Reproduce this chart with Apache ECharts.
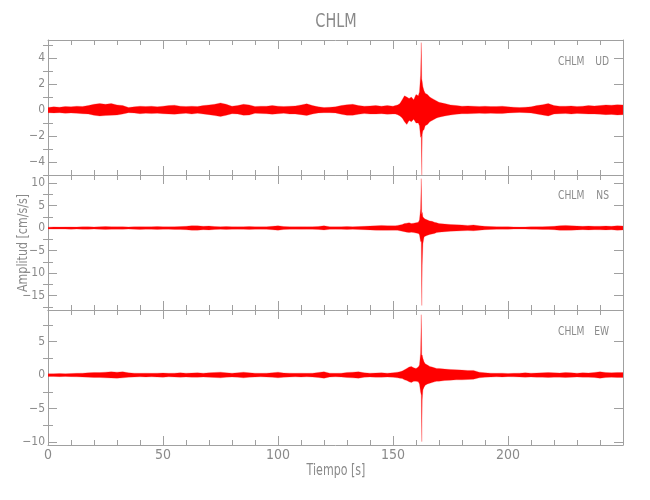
<!DOCTYPE html>
<html>
<head>
<meta charset="utf-8">
<script src="https://cdn.jsdelivr.net/npm/echarts@6/dist/echarts.min.js"></script>
<style>html,body{margin:0;padding:0;background:#fff}#c{width:650px;height:500px}</style>
</head>
<body>
<div id="c"></div>
<script>
// Sample times (s) of the envelope readings
const times = [
0,2.5,5,7.5,10,12.5,15,17.5,20,22.5,
25,27.5,30,32.5,35,37.5,40,42.5,45,47.5,
50,52.5,55,57.5,60,62.5,65,67.5,70,72.5,
75,77.5,80,82.5,85,87.5,90,92.5,95,97.5,
100,102.5,105,107.5,110,112.5,115,117.5,120,122.5,
125,127.5,130,132.5,135,137.5,140,142.5,145,147.5,
150,
151,152,153,154,155,156,157,158,159,160,161,161.5,162,162.3,162.5,162.7,163,163.5,164,165,166,167,168,169,170,
172.5,175,177.5,180,182.5,185,187.5,190,192.5,195,197.5,200,202.5,205,207.5,210,212.5,215,217.5,220,222.5,225,227.5,230,232.5,235,237.5,240,242.5,245,247.5,250
];

// UD component envelope (upper / lower), cm/s/s
const udHi = [
.2,.25,.22,.28,.25,.3,.28,.35,.45,.5,
.45,.5,.4,.35,.2,.25,.3,.28,.3,.25,
.3,.35,.38,.3,.28,.3,.28,.35,.4,.45,
.55,.45,.3,.35,.45,.4,.28,.3,.3,.35,
.3,.28,.3,.32,.4,.48,.35,.25,.2,.22,
.25,.35,.42,.45,.35,.3,.32,.35,.3,.35,
.3,
.35,.4,.5,.8,1.1,1.0,.9,1.0,.8,1.2,1.1,1.4,2.7,5.2,2.4,2.2,1.8,1.5,1.3,1.2,1.0,.9,.8,.7,.6,
.5,.4,.35,.3,.32,.3,.28,.3,.27,.28,.3,.25,.22,.2,.22,.25,.35,.42,.5,.35,.3,.3,.32,.28,.3,.35,.32,.35,.4,.38,.42,.4
];
const udLo = [
-.2,-.22,-.2,-.25,-.22,-.25,-.28,-.3,-.4,-.45,
-.42,-.4,-.38,-.3,-.2,-.22,-.28,-.25,-.27,-.25,
-.28,-.3,-.32,-.28,-.25,-.3,-.25,-.3,-.35,-.42,
-.5,-.4,-.28,-.3,-.4,-.38,-.25,-.27,-.28,-.32,
-.28,-.25,-.3,-.3,-.35,-.42,-.3,-.22,-.2,-.2,
-.22,-.32,-.4,-.4,-.32,-.27,-.3,-.3,-.28,-.32,
-.3,
-.3,-.35,-.45,-.6,-.9,-1.1,-.8,-.9,-.7,-1.0,-1.0,-1.2,-2.1,-2.0,-5.0,-1.9,-1.6,-1.5,-1.2,-1.1,-.9,-.8,-.7,-.6,-.55,
-.45,-.38,-.32,-.28,-.28,-.27,-.25,-.27,-.25,-.26,-.27,-.22,-.2,-.18,-.2,-.22,-.3,-.38,-.45,-.3,-.28,-.27,-.3,-.26,-.28,-.3,-.3,-.32,-.35,-.33,-.38,-.35
];

// NS component envelope
const nsHi = [
.2,.25,.22,.25,.25,.22,.28,.3,.25,.3,
.35,.3,.28,.3,.25,.3,.32,.28,.3,.35,
.3,.28,.32,.35,.4,.55,.5,.4,.45,.35,
.3,.35,.3,.28,.3,.35,.3,.28,.3,.4,
.5,.35,.3,.28,.3,.28,.3,.35,.5,.3,
.28,.3,.35,.3,.35,.4,.45,.5,.6,.55,
.5,
.5,.6,.7,.8,1.0,1.1,1.2,1.0,1.1,1.2,1.3,1.8,4.3,11.0,3.0,3.5,2.5,2.2,2.0,1.8,1.6,1.5,1.3,1.2,1.0,
.9,.8,.75,.7,.6,.7,.5,.4,.35,.3,.28,.3,.25,.22,.25,.28,.3,.32,.35,.4,.55,.6,.5,.45,.4,.45,.4,.42,.45,.4,.5,.45
];
const nsLo = [
-.2,-.22,-.2,-.22,-.25,-.2,-.25,-.28,-.22,-.28,
-.3,-.28,-.25,-.28,-.22,-.25,-.3,-.25,-.28,-.3,
-.28,-.25,-.3,-.32,-.35,-.45,-.45,-.35,-.4,-.3,
-.28,-.3,-.28,-.25,-.28,-.3,-.28,-.25,-.28,-.35,
-.45,-.3,-.28,-.25,-.28,-.25,-.27,-.3,-.4,-.28,
-.25,-.28,-.3,-.28,-.32,-.35,-.4,-.45,-.5,-.5,
-.45,
-.45,-.5,-.6,-.7,-.8,-.9,-1.0,-.9,-1.0,-1.1,-1.2,-1.5,-3.0,-3.0,-17.2,-8.3,-3.5,-2.0,-1.8,-1.6,-1.4,-1.3,-1.2,-1.0,-.9,
-.8,-.7,-.65,-.6,-.55,-.6,-.45,-.35,-.3,-.28,-.25,-.27,-.22,-.2,-.22,-.25,-.28,-.3,-.3,-.35,-.5,-.5,-.45,-.4,-.35,-.4,-.35,-.38,-.4,-.35,-.45,-.4
];

// EW component envelope
const ewHi = [
.2,.22,.25,.22,.25,.28,.3,.35,.4,.38,
.45,.5,.45,.5,.35,.3,.28,.3,.28,.3,
.32,.28,.3,.35,.3,.32,.35,.3,.35,.4,
.45,.35,.3,.35,.45,.35,.3,.28,.3,.35,
.45,.32,.3,.28,.3,.28,.3,.4,.5,.3,
.28,.3,.4,.45,.5,.35,.3,.32,.35,.3,
.35,
.4,.45,.5,.6,.8,1.0,1.2,1.3,1.1,1.0,1.2,1.5,3.3,9.0,3.0,3.0,2.5,2.0,1.7,1.5,1.3,1.2,1.1,1.0,1.0,
.9,.85,.8,.75,.7,.7,.45,.35,.3,.28,.3,.25,.28,.3,.35,.3,.32,.35,.4,.35,.32,.4,.35,.3,.35,.32,.4,.5,.4,.35,.4,.38
];
const ewLo = [
-.2,-.2,-.22,-.2,-.22,-.25,-.28,-.3,-.35,-.35,
-.4,-.42,-.45,-.4,-.3,-.28,-.25,-.27,-.25,-.28,
-.3,-.25,-.28,-.3,-.28,-.3,-.32,-.28,-.3,-.35,
-.4,-.3,-.28,-.3,-.4,-.3,-.28,-.25,-.28,-.3,
-.4,-.3,-.28,-.25,-.28,-.25,-.28,-.35,-.45,-.28,
-.25,-.28,-.35,-.4,-.45,-.3,-.28,-.3,-.3,-.28,
-.3,
-.35,-.4,-.45,-.5,-.7,-.8,-1.0,-1.1,-.9,-.9,-1.0,-1.3,-2.5,-3.0,-9.9,-3.7,-2.2,-1.8,-1.5,-1.3,-1.2,-1.1,-1.0,-.9,-.9,
-.8,-.75,-.7,-.7,-.65,-.6,-.4,-.3,-.28,-.25,-.27,-.22,-.25,-.27,-.3,-.28,-.3,-.3,-.35,-.3,-.3,-.35,-.32,-.28,-.3,-.3,-.35,-.45,-.35,-.32,-.35,-.35
];

// Axis ranges and tick labels
const xTicks = [0, 50, 100, 150, 200];
const udRange = [-5.0, 5.4], nsRange = [-18.2, 11.8], ewRange = [-10.4, 9.7];
const udMajor = [-4, -2, 0, 2, 4], udMinor = [-5, -3, -1, 1, 3, 5];
const nsMajor = [-15, -10, -5, 0, 5, 10], nsMinor = [-17.5, -12.5, -7.5, -2.5, 2.5, 7.5];
const ewMajor = [-10, -5, 0, 5], ewMinor = [-7.5, -2.5, 2.5, 7.5];
const station = 'CHLM';
const comps = ['UD', 'NS', 'EW'];

const FONT = "'Liberation Sans Narrow','DejaVu Sans Condensed',sans-serif";
const GREY = '#8a8a8a';
const AXC = '#a0a0a0';

const panels = [
  {hi: udHi, lo: udLo, range: udRange, major: udMajor, minor: udMinor},
  {hi: nsHi, lo: nsLo, range: nsRange, major: nsMajor, minor: nsMinor},
  {hi: ewHi, lo: ewLo, range: ewRange, major: ewMajor, minor: ewMinor}
];

const grids = [], xAxes = [], yAxes = [], series = [];
const fmt = v => (v < 0 ? '\u2212' + Math.abs(v) : String(v));

panels.forEach((p, i) => {
  grids.push({left: 48, width: 575, top: 40 + i * 135, height: 135});
  ['bottom', 'top'].forEach(pos => {
    xAxes.push({
      type: 'value', gridIndex: i, position: pos, min: 0, max: 250, interval: 50,
      axisLine: {show: true, onZero: false, lineStyle: {color: AXC, width: 1}},
      axisTick: {show: true, inside: true, length: 9, lineStyle: {color: AXC}},
      minorTick: {show: true, splitNumber: 5, length: 5, lineStyle: {color: AXC}},
      splitLine: {show: false},
      axisLabel: {show: pos === 'bottom' && i === 2, margin: 3, color: GREY, fontFamily: FONT, fontSize: 14,
                  customValues: xTicks}
    });
  });
  ['left', 'right'].forEach(pos => {
    yAxes.push({
      type: 'value', gridIndex: i, position: pos, min: p.range[0], max: p.range[1],
      axisLine: {show: true, onZero: false, lineStyle: {color: AXC, width: 1}},
      axisTick: {show: true, inside: true, length: 9, customValues: p.major, lineStyle: {color: AXC}},
      splitLine: {show: false},
      axisLabel: {show: pos === 'left', margin: 3, color: GREY, fontFamily: FONT, fontSize: 12,
                  customValues: p.major, formatter: fmt}
    });
    yAxes.push({
      type: 'value', gridIndex: i, position: pos, min: p.range[0], max: p.range[1],
      axisLine: {show: false},
      axisTick: {show: true, inside: true, length: 5, customValues: p.minor, lineStyle: {color: AXC}},
      splitLine: {show: false},
      axisLabel: {show: false, customValues: p.minor}
    });
  });
  const hi = p.hi, lo = p.lo;
  const n = Math.min(times.length, hi.length, lo.length);
  series.push({
    type: 'custom', xAxisIndex: i * 2, yAxisIndex: i * 4, clip: true,
    data: [[times[0], hi[0]]],
    renderItem: (params, api) => {
      const up = [], dn = [];
      for (let k = 0; k < n; k++) {
        up.push(api.coord([times[k], hi[k]]));
        dn.push(api.coord([times[k], lo[k]]));
      }
      return {type: 'polygon', shape: {points: up.concat(dn.reverse())},
              style: {fill: '#ff0000', stroke: 'rgba(255,40,40,0.45)', lineWidth: 0.6}};
    },
    silent: true
  });
});

const labelY = [62, 196, 332];
const graphic = [
  {type: 'text', x: 336, y: 22, scaleX: 0.8, style: {text: station, font: '20px ' + FONT, fill: GREY, align: 'center', verticalAlign: 'middle'}},
  {type: 'text', x: 336, y: 471, scaleX: 0.82, style: {text: 'Tiempo [s]', font: '15px ' + FONT, fill: GREY, align: 'center', verticalAlign: 'middle'}},
  {type: 'text', x: 23, y: 243, rotation: Math.PI / 2, scaleX: 0.88, style: {text: 'Amplitud [cm/s/s]', font: '14px ' + FONT, fill: GREY, align: 'center', verticalAlign: 'middle'}}
];
comps.forEach((c, i) => {
  graphic.push({type: 'text', x: 558, y: labelY[i], scaleX: 0.85, style: {text: station, font: '12px ' + FONT, fill: GREY, align: 'left', verticalAlign: 'middle'}});
  graphic.push({type: 'text', x: 609, y: labelY[i], scaleX: 0.85, style: {text: c, font: '12px ' + FONT, fill: GREY, align: 'right', verticalAlign: 'middle'}});
});

const chart = echarts.init(document.getElementById('c'), null, {renderer: 'canvas'});
chart.setOption({
  animation: false,
  backgroundColor: '#ffffff',
  grid: grids, xAxis: xAxes, yAxis: yAxes, series: series, graphic: graphic
});
</script>
</body>
</html>
